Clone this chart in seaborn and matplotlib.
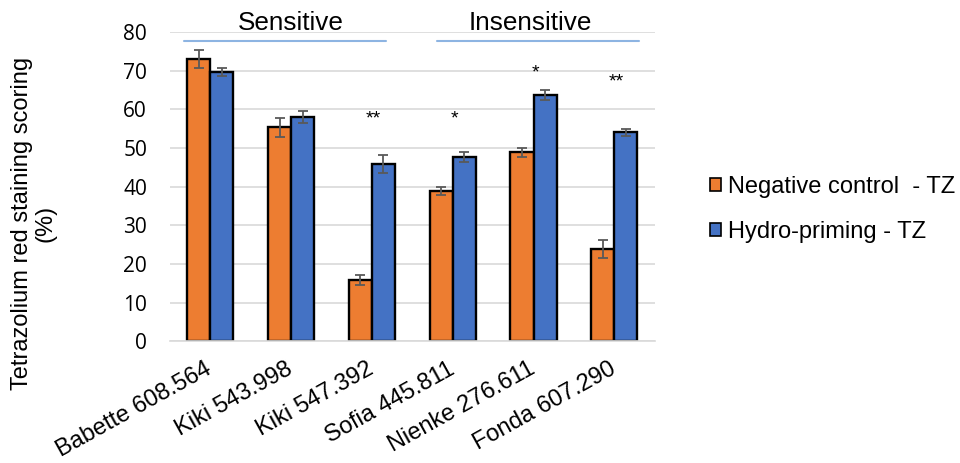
import pandas as pd
import matplotlib
matplotlib.use("Agg")
import matplotlib.pyplot as plt
from matplotlib.patches import Patch
import seaborn as sns

# ── Data ───────────────────────────────────────────────────────────────────────
varieties = ["Babette 608.564", "Kiki 543.998", "Kiki 547.392",
             "Sofia 445.811", "Nienke 276.611", "Fonda 607.290"]
treatments = ["Negative control  - TZ", "Hydro-priming - TZ"]
control_mean = [73.0, 55.3, 15.8, 38.9, 48.9, 23.8]
control_err = [2.3, 2.5, 1.3, 1.0, 1.2, 2.3]
priming_mean = [69.7, 58.0, 45.8, 47.6, 63.6, 54.0]
priming_err = [1.0, 1.5, 2.4, 1.3, 1.3, 0.8]
signif = ["", "", "**", "*", "*", "**"]
signif_y = [0, 0, 57.5, 57.5, 69.3, 67.0]
groups = ["Sensitive", "Insensitive"]
group_span = [(-0.33, 2.17), (2.81, 5.31)]
group_label_x = [1.0, 3.96]

ORANGE = "#ED7D31"
BLUE = "#4472C4"

df = pd.DataFrame({
    "variety": varieties * 2,
    "treatment": [treatments[0]] * 6 + [treatments[1]] * 6,
    "score": control_mean + priming_mean,
    "err": control_err + priming_err,
})

sns.set_theme(style="white")
plt.rcParams["font.family"] = ["Liberation Sans", "DejaVu Sans"]
for key in ["text.color", "axes.labelcolor", "xtick.color", "ytick.color"]:
    plt.rcParams[key] = "black"

fig = plt.figure(figsize=(9.6, 4.63), dpi=100)
ax = fig.add_axes([0.177, 0.263, 0.505, 0.668])

sns.barplot(data=df, x="variety", y="score", hue="treatment",
            palette=[ORANGE, BLUE], width=0.57, errorbar=None, saturation=1,
            edgecolor="black", linewidth=1.7, ax=ax, legend=False, zorder=2)

# error bars on top of each bar
bars = [p for p in ax.patches if p.get_height() > 0]
for bar, err in zip(bars, df["err"]):
    ax.errorbar(bar.get_x() + bar.get_width() / 2, bar.get_height(), yerr=err,
                color="#595959", capsize=3.6, elinewidth=1.3, capthick=1.3,
                zorder=3)

# significance stars
for i, (s, y) in enumerate(zip(signif, signif_y)):
    if s:
        ax.text(i + 0.02, y, s, ha="center", va="center", fontsize=14)

# group brackets
for name, (x0, x1), lx in zip(groups, group_span, group_label_x):
    ax.plot([x0, x1], [77.6, 77.6], color="#8DB4E2", lw=1.5, clip_on=False)
    ax.text(lx, 80.6, name, ha="center", va="baseline",
            fontsize=18.8, clip_on=False)

ax.set_ylim(0, 80)
ax.set_xlim(-0.5, 5.5)
ax.set_yticks(range(0, 81, 10))
ax.yaxis.grid(True, color="#D9D9D9", lw=1.2, zorder=0)
ax.set_axisbelow(True)
for side in ["top", "right", "left"]:
    ax.spines[side].set_visible(False)
ax.spines["bottom"].set_color("#D9D9D9")
ax.spines["bottom"].set_linewidth(1.2)
ax.tick_params(axis="y", length=0, pad=16.5)
for lab in ax.get_yticklabels():
    lab.set_fontfamily(["Open Sans", "DejaVu Sans"])
    lab.set_fontsize(15)
ax.set_xticks(range(len(varieties)))
ax.set_xticklabels(varieties, rotation=29, ha="right", va="center",
                   rotation_mode="anchor", fontsize=17)
ax.tick_params(axis="x", length=0, pad=19)
ax.set_xlabel("")
ax.set_ylabel("Tetrazolium red staining scoring\n(%)", fontsize=17,
              linespacing=1.1)
ax.yaxis.set_label_coords(-0.233, 0.382)

handles = [Patch(facecolor=ORANGE, edgecolor="black", lw=1.2),
           Patch(facecolor=BLUE, edgecolor="black", lw=1.2)]
fig.legend(handles, treatments, loc="center left",
           bbox_to_anchor=(0.7175, 0.548), frameon=False, fontsize=17,
           handlelength=0.47, handleheight=0.47, handletextpad=0.3,
           labelspacing=0.96)

fig.savefig("out.png", dpi=100)
